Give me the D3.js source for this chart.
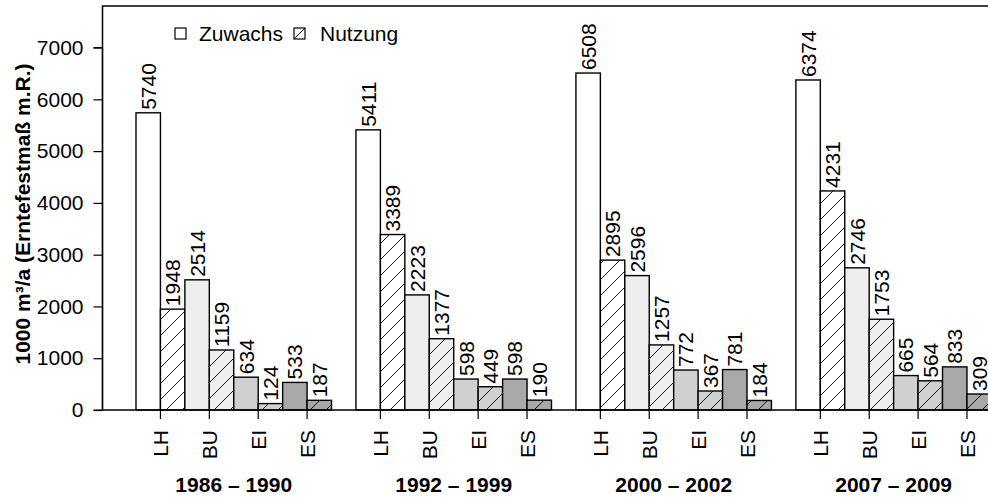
<!DOCTYPE html>
<html><head><meta charset="utf-8">
<script src="https://cdn.jsdelivr.net/npm/d3@7"></script>
<style>
html,body{margin:0;padding:0;background:#fff;}
svg{display:block;font-family:"Liberation Sans",Arial,Helvetica,sans-serif;}
</style></head>
<body>
<svg id="chart" width="988" height="497"></svg>
<script>
const periods = ["1986 \u2013 1990", "1992 \u2013 1999", "2000 \u2013 2002", "2007 \u2013 2009"];
const species = ["LH", "BU", "EI", "ES"];
const speciesFill = ["#ffffff", "#eeeeee", "#d0d0d0", "#a8a8a8"];
const zuwachs = [
  [5740, 2514, 634, 533],
  [5411, 2223, 598, 598],
  [6508, 2596, 772, 781],
  [6374, 2746, 665, 833]
];
const nutzung = [
  [1948, 1159, 124, 187],
  [3389, 1377, 449, 190],
  [2895, 1257, 367, 184],
  [4231, 1753, 564, 309]
];
const yTicks = [0, 1000, 2000, 3000, 4000, 5000, 6000, 7000];
const legendLabels = ["Zuwachs", "Nutzung"];
const yTitle = "1000 m\u00b3/a (Erntefestma\u00df m.R.)";

const svg = d3.select("#chart");
const FS = 21;

// pattern for hatching
const defs = svg.append("defs");
speciesFill.forEach((c, i) => {
  const p = defs.append("pattern").attr("id", "hatch" + i)
    .attr("patternUnits", "userSpaceOnUse").attr("width", 16).attr("height", 16);
  p.append("rect").attr("width", 16).attr("height", 16).attr("fill", c);
  p.append("path").attr("d", "M0,16 L16,0 M-4,4 L4,-4 M12,20 L20,12")
    .attr("stroke", "#000").attr("stroke-width", 0.9);
});
const pl = defs.append("pattern").attr("id", "hatchL").attr("patternUnits", "userSpaceOnUse")
  .attr("x", 294).attr("y", 28).attr("width", 11).attr("height", 11);
pl.append("rect").attr("width", 11).attr("height", 11).attr("fill", "#fff");
pl.append("path").attr("d", "M0,11 L11,0").attr("stroke", "#000").attr("stroke-width", 1);

// scales: units (each bar width 1, one unit gap before every group)
const x = d3.scaleLinear().domain([0, 36]).range([111.56, 111.56 + 36 * 24.44]);
const y = d3.scaleLinear().domain([0, 7803]).range([410, 6]);

// bars
const bars = [];
periods.forEach((p, g) => {
  species.forEach((s, k) => {
    const u = g * 9 + 1 + k * 2;
    bars.push({u: u, v: zuwachs[g][k], fill: speciesFill[k]});
    bars.push({u: u + 1, v: nutzung[g][k], fill: "url(#hatch" + k + ")"});
  });
});

const gb = svg.append("g");
gb.selectAll("rect").data(bars).join("rect")
  .attr("x", d => x(d.u)).attr("y", d => y(d.v))
  .attr("width", d => x(d.u + 1) - x(d.u)).attr("height", d => y(0) - y(d.v))
  .attr("fill", d => d.fill).attr("stroke", "#000").attr("stroke-width", 1.4);

// value labels
gb.selectAll("text").data(bars).join("text")
  .attr("transform", d => `translate(${x(d.u + 0.5)},${y(d.v) - 3}) rotate(-90)`)
  .attr("dy", "0.36em").attr("font-size", FS).attr("fill", "#000")
  .text(d => d.v);

// box
svg.append("path")
  .attr("d", `M1000,${y(7803)} H102.5 V${y(0)} H1000`)
  .attr("fill", "none").attr("stroke", "#000").attr("stroke-width", 1.5);

// y axis
const yAxis = d3.axisLeft(y).tickValues(yTicks).tickSize(9).tickPadding(10).tickFormat(d3.format("d"));
const ga = svg.append("g").attr("transform", "translate(102.5,0)").call(yAxis);
ga.select(".domain").attr("d", `M-9,${y(0)} H0 V${y(7000)} H-9`).attr("stroke-width", 1.2);
ga.selectAll(".tick line").attr("stroke-width", 1.2);
ga.selectAll(".tick text").attr("font-size", FS).attr("font-family", "Liberation Sans, Arial, sans-serif").attr("fill", "#000");

// x ticks and species labels
const xt = [];
periods.forEach((p, g) => species.forEach((s, k) => xt.push({u: g * 9 + 2 + k * 2, s: s})));
const gx = svg.append("g");
gx.selectAll("line").data(xt).join("line")
  .attr("x1", d => x(d.u)).attr("x2", d => x(d.u))
  .attr("y1", y(0)).attr("y2", y(0) + 9)
  .attr("stroke", "#000").attr("stroke-width", 1.2);
gx.selectAll("text").data(xt).join("text")
  .attr("transform", d => `translate(${x(d.u)},430) rotate(-90)`)
  .attr("text-anchor", "end").attr("dy", "0.36em").attr("font-size", FS)
  .text(d => d.s);

// group labels
svg.append("g").selectAll("text").data(periods).join("text")
  .attr("x", (d, g) => x(g * 9 + 5)).attr("y", 492)
  .attr("text-anchor", "middle").attr("font-size", FS).attr("font-weight", "bold")
  .text(d => d);

// y title
svg.append("text")
  .attr("transform", "translate(30,214) rotate(-90)")
  .attr("text-anchor", "middle").attr("font-size", FS).attr("font-weight", "bold")
  .text(yTitle);

// legend
const lg = svg.append("g");
const legX = [175, 294], legTX = [199, 320];
legendLabels.forEach((l, i) => {
  lg.append("rect").attr("x", legX[i]).attr("y", 28).attr("width", 11).attr("height", 11)
    .attr("fill", i === 0 ? "#fff" : "url(#hatchL)").attr("stroke", "#000").attr("stroke-width", 1.2);
  lg.append("text").attr("x", legTX[i]).attr("y", 33.5).attr("dy", "0.36em")
    .attr("font-size", FS).text(l);
});
</script>
</body></html>
